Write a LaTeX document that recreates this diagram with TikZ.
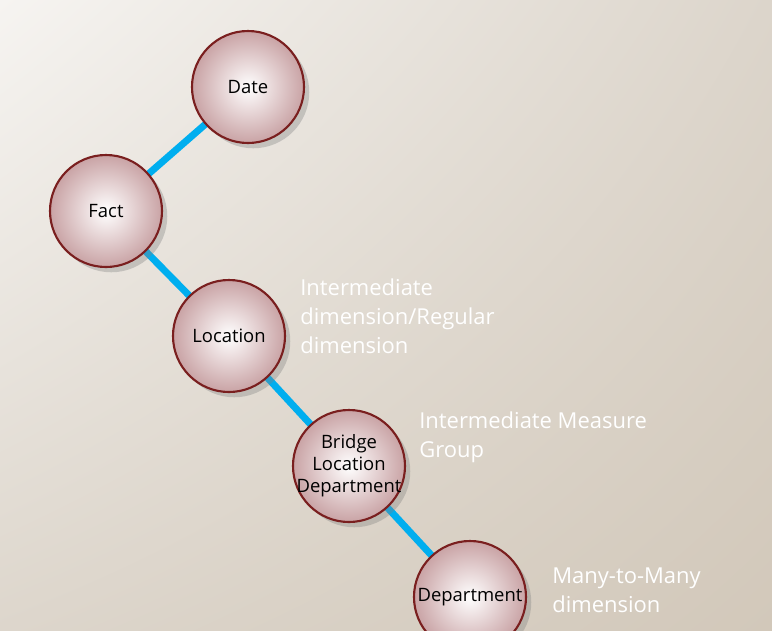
\documentclass[tikz,border=0pt]{standalone}
\usepackage{fontspec}
\setmainfont{Open Sans}
\usetikzlibrary{shadows,shadings}
\definecolor{lnk}{HTML}{00AEEF}
\definecolor{rim}{HTML}{7A1F1F}
\definecolor{pink}{HTML}{C9A3A5}
\definecolor{bgA}{HTML}{F6F4F1}
\definecolor{bgB}{HTML}{DCD5CB}
\definecolor{bgC}{HTML}{DDD6CC}
\definecolor{bgD}{HTML}{D2C8BA}
\tikzset{
 ent/.style={circle,minimum size=112*0.02cm,draw=rim,line width=1.2pt,inner sep=0pt,
   align=center,font=\fontsize{10.5}{12.5}\selectfont,
   shading=radial,inner color=white,outer color=pink,
   drop shadow={shadow xshift=3pt,shadow yshift=-3pt,opacity=0.35}},
 enttext/.style={align=center,font=\fontsize{10.5}{12.5}\selectfont,inner sep=0pt},
 lnkline/.style={lnk,line width=7*0.567pt},
 lbl/.style={text=white,anchor=north west,align=left,font=\fontsize{12.5}{16.5}\selectfont,inner sep=0pt}
}
\begin{document}
\begin{tikzpicture}[x=0.02cm,y=-0.02cm]
\shade[upper left=bgA,upper right=bgB,lower left=bgC,lower right=bgD] (0,0) rectangle (772,630);
\useasboundingbox (0,0) rectangle (772,630);
\coordinate (cd) at (248,87);
\coordinate (cf) at (106,211);
\coordinate (cl) at (229,336);
\coordinate (cb) at (349,466);
\coordinate (cp) at (470,597);
\draw[lnkline] (cf) -- (cd);
\draw[lnkline] (cf) -- (cl);
\draw[lnkline] (cl) -- (cb);
\draw[lnkline] (cb) -- (cp);
\node[ent] (date) at (cd) {Date};
\node[ent] (fact) at (cf) {Fact};
\node[ent] (loc) at (cl) {Location};
\node[ent] (bridge) at (cb) {};
\node[enttext] (bridgetext) at (bridge.center) {Bridge\\Location\\Department};
\node[ent] (dept) at (cp) {Department};
\node[lbl] (l1) at (300,278) {Intermediate\\dimension/Regular\\dimension};
\node[lbl] (l2) at (419,411) {Intermediate Measure\\Group};
\node[lbl] (l3) at (552,567) {Many-to-Many\\dimension};
\end{tikzpicture}
\end{document}
